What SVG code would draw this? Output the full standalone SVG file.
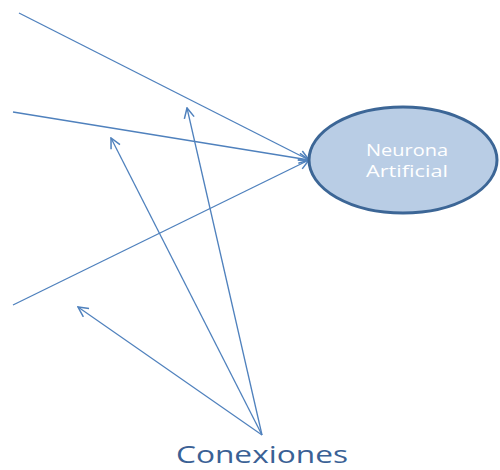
<svg xmlns="http://www.w3.org/2000/svg" width="500" height="470" viewBox="0 0 500 470">
  <style>
    .link { stroke: #4f81bd; stroke-width: 1.3; fill: none; marker-end: url(#open); }
    .node-label { font-family: "Open Sans", "Liberation Sans", sans-serif; font-size: 16px; fill: #ffffff; text-anchor: middle; }
    .caption { font-family: "Open Sans", "Liberation Sans", sans-serif; font-size: 24px; fill: #3a6195; text-anchor: middle; }
  </style>
  <defs>
    <marker id="open" viewBox="0 0 12 12" refX="11" refY="6" markerWidth="12" markerHeight="12" markerUnits="userSpaceOnUse" orient="auto">
      <path d="M1,1 L11,6 L1,11" fill="none" stroke="#4f81bd" stroke-width="1.5"/>
    </marker>
  </defs>
  <rect width="500" height="470" fill="#ffffff"/>
  <g id="connectors">
    <line class="link" x1="19" y1="13" x2="309" y2="160"/>
    <line class="link" x1="13" y1="112" x2="309" y2="160"/>
    <line class="link" x1="13" y1="305" x2="309" y2="160"/>
    <line class="link" x1="262" y1="435" x2="187" y2="108"/>
    <line class="link" x1="262" y1="435" x2="111" y2="138"/>
    <line class="link" x1="262" y1="435" x2="78" y2="307"/>
  </g>
  <g id="neurona">
    <ellipse cx="403" cy="160" rx="94" ry="53" fill="#b9cde5" stroke="#3c6696" stroke-width="3"/>
    <text class="node-label" x="407" y="156" textLength="82" lengthAdjust="spacingAndGlyphs">Neurona</text>
    <text class="node-label" x="407" y="177" textLength="82" lengthAdjust="spacingAndGlyphs">Artificial</text>
  </g>
  <g id="conexiones">
    <text class="caption" x="262" y="463" textLength="172" lengthAdjust="spacingAndGlyphs">Conexiones</text>
  </g>
</svg>
